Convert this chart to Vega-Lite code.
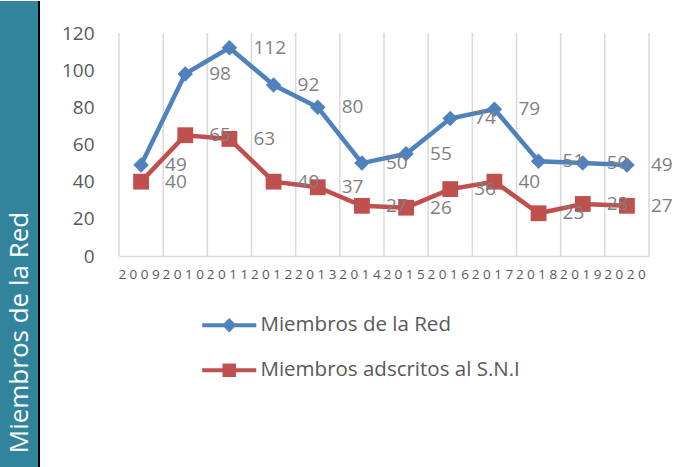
{
  "$schema": "https://vega.github.io/schema/vega-lite/v6.json",
  "background": "white",
  "padding": 0,
  "spacing": 21,
  "bounds": "full",
  "config": {
    "font": "Open Sans",
    "view": {"stroke": null},
    "legend": {
      "title": null,
      "orient": "none",
      "legendX": 219,
      "legendY": 314,
      "direction": "vertical",
      "padding": 0,
      "labelFont": "Open Sans",
      "labelFontSize": 20.5,
      "labelColor": "#595959",
      "labelLimit": 400,
      "labelOffset": 21,
      "rowPadding": 19,
      "symbolSize": 196,
      "symbolStrokeWidth": 4
    }
  },
  "hconcat": [
    {
      "width": 39,
      "height": 467,
      "view": {"fill": "#31849B", "stroke": null},
      "data": {"values": [{"titulo": "Miembros de la Red"}]},
      "layer": [
        {
          "mark": {"type": "text", "angle": 270, "color": "white", "fontSize": 26, "font": "Open Sans", "dx": -98, "baseline": "middle", "align": "center"},
          "encoding": {"text": {"field": "titulo"}}
        },
        {
          "mark": {"type": "rule", "color": "black", "strokeWidth": 2},
          "encoding": {"x": {"value": "width"}}
        }
      ]
    },
    {
      "width": 530,
      "height": 255,
      "data": {
        "values": [
          {"anio": 2009, "serie": "Miembros de la Red", "valor": 49},
          {"anio": 2010, "serie": "Miembros de la Red", "valor": 98},
          {"anio": 2011, "serie": "Miembros de la Red", "valor": 112},
          {"anio": 2012, "serie": "Miembros de la Red", "valor": 92},
          {"anio": 2013, "serie": "Miembros de la Red", "valor": 80},
          {"anio": 2014, "serie": "Miembros de la Red", "valor": 50},
          {"anio": 2015, "serie": "Miembros de la Red", "valor": 55},
          {"anio": 2016, "serie": "Miembros de la Red", "valor": 74},
          {"anio": 2017, "serie": "Miembros de la Red", "valor": 79},
          {"anio": 2018, "serie": "Miembros de la Red", "valor": 51},
          {"anio": 2019, "serie": "Miembros de la Red", "valor": 50},
          {"anio": 2020, "serie": "Miembros de la Red", "valor": 49},
          {"anio": 2009, "serie": "Miembros adscritos al S.N.I", "valor": 40},
          {"anio": 2010, "serie": "Miembros adscritos al S.N.I", "valor": 65},
          {"anio": 2011, "serie": "Miembros adscritos al S.N.I", "valor": 63},
          {"anio": 2012, "serie": "Miembros adscritos al S.N.I", "valor": 40},
          {"anio": 2013, "serie": "Miembros adscritos al S.N.I", "valor": 37},
          {"anio": 2014, "serie": "Miembros adscritos al S.N.I", "valor": 27},
          {"anio": 2015, "serie": "Miembros adscritos al S.N.I", "valor": 26},
          {"anio": 2016, "serie": "Miembros adscritos al S.N.I", "valor": 36},
          {"anio": 2017, "serie": "Miembros adscritos al S.N.I", "valor": 40},
          {"anio": 2018, "serie": "Miembros adscritos al S.N.I", "valor": 23},
          {"anio": 2019, "serie": "Miembros adscritos al S.N.I", "valor": 28},
          {"anio": 2020, "serie": "Miembros adscritos al S.N.I", "valor": 27}
        ]
      },
      "encoding": {
        "x": {
          "field": "anio",
          "type": "ordinal",
          "scale": {"type": "band", "paddingInner": 0, "paddingOuter": 0},
          "axis": {
            "title": null,
            "grid": false,
            "domain": true,
            "domainColor": "#D9D9D9",
            "domainWidth": 1.5,
            "ticks": false,
            "tickSize": 0,
            "labelAngle": 0,
            "labelExpr": "join(split(datum.label, ''), ' ')",
            "labelOffset": -2,
            "labelFontSize": 13.5,
            "labelFont": "Open Sans",
            "labelColor": "#595959",
            "labelPadding": 11,
            "labelOverlap": false,
            "labelBound": false
          }
        },
        "y": {
          "field": "valor",
          "type": "quantitative",
          "scale": {"domain": [0, 120], "nice": false, "range": [255, 32]},
          "axis": {
            "title": null,
            "values": [0, 20, 40, 60, 80, 100, 120],
            "grid": false,
            "domain": false,
            "ticks": false,
            "tickSize": 0,
            "labelPadding": 25,
            "labelFontSize": 19,
            "labelFont": "Open Sans",
            "labelColor": "#595959"
          }
        },
        "color": {
          "field": "serie",
          "type": "nominal",
          "scale": {"domain": ["Miembros de la Red", "Miembros adscritos al S.N.I"], "range": ["#4F81BD", "#C0504D"]}
        }
      },
      "layer": [
        {
          "transform": [{"filter": "datum.serie === 'Miembros de la Red'"}],
          "mark": {"type": "rule", "color": "#D9D9D9", "strokeWidth": 1.5},
          "encoding": {
            "x": {"field": "anio", "type": "ordinal", "bandPosition": 0},
            "y": {"datum": 0},
            "y2": {"datum": 120},
            "color": {"value": "#D9D9D9"}
          }
        },
        {
          "transform": [{"filter": "datum.serie === 'Miembros de la Red' && datum.anio === 2020"}],
          "mark": {"type": "rule", "color": "#D9D9D9", "strokeWidth": 1.5},
          "encoding": {
            "x": {"field": "anio", "type": "ordinal", "bandPosition": 1},
            "y": {"datum": 0},
            "y2": {"datum": 120},
            "color": {"value": "#D9D9D9"}
          }
        },
        {"mark": {"type": "line", "strokeWidth": 4.5}},
        {
          "transform": [{"filter": "datum.valor < 0"}],
          "mark": {"type": "point", "filled": false, "opacity": 1, "strokeWidth": 4},
          "encoding": {
            "shape": {
              "field": "serie",
              "type": "nominal",
              "scale": {
                "domain": ["Miembros de la Red", "Miembros adscritos al S.N.I"],
                "range": [
                  "M-3.86,0H3.86M0,-0.62L0.62,0L0,0.62L-0.62,0ZM0,-0.3L0.3,0L0,0.3L-0.3,0Z",
                  "M-3.86,0H3.86M-0.68,-0.68H0.68V0.68H-0.68ZM-0.34,-0.34H0.34V0.34H-0.34Z"
                ]
              }
            }
          }
        },
        {
          "transform": [{"filter": "datum.serie === 'Miembros de la Red'"}],
          "mark": {"type": "point", "shape": "diamond", "filled": true, "opacity": 1, "size": 240}
        },
        {
          "transform": [{"filter": "datum.serie === 'Miembros adscritos al S.N.I'"}],
          "mark": {"type": "point", "shape": "square", "filled": true, "opacity": 1, "size": 250}
        },
        {
          "mark": {"type": "text", "align": "left", "baseline": "middle", "dx": 24, "fontSize": 19, "font": "Open Sans"},
          "encoding": {
            "text": {"field": "valor", "type": "quantitative"},
            "color": {"value": "#7F7F7F"}
          }
        }
      ]
    }
  ]
}
